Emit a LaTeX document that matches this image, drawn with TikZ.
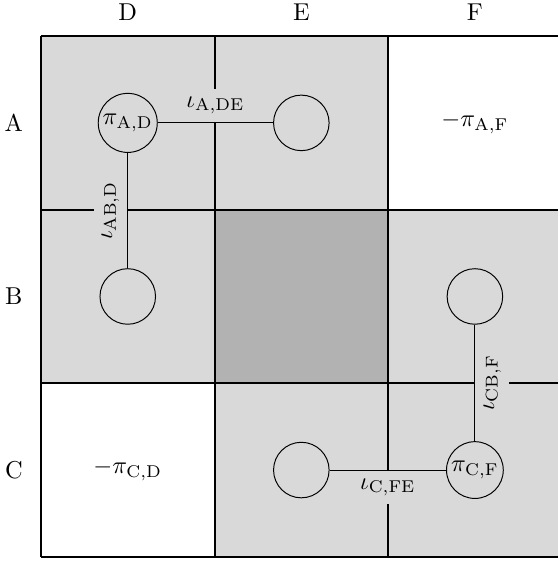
\documentclass[tikz,border=0pt]{standalone}
\usetikzlibrary{positioning}
\begin{document}
\begin{tikzpicture}[
    cell/.style={minimum size=2.5cm, inner sep=0pt},
    player/.style={circle, draw, minimum size=0.8cm, inner sep=1pt},
    link/.style={draw, thin},
    lbl/.style={fill=gray!30}
    ]
    \useasboundingbox (-0.59,0.52) rectangle (7.44,-7.56);

    \node[cell, fill=gray!30] (AD) at (1.25,-1.25) {};
    \node[cell, fill=gray!30] (AE) at (3.75,-1.25) {};
    \node[cell] (AF) at (6.25,-1.25) {};
    \node[cell, fill=gray!30] (BD) at (1.25,-3.75) {};
    \node[cell, fill=gray!60] (BE) at (3.75,-3.75) {};
    \node[cell, fill=gray!30] (BF) at (6.25,-3.75) {};
    \node[cell] (CD) at (1.25,-6.25) {};
    \node[cell, fill=gray!30] (CE) at (3.75,-6.25) {};
    \node[cell, fill=gray!30] (CF) at (6.25,-6.25) {};
    \draw[thick] (0,-7.5) grid[step=2.5] (7.5,0);

    \foreach \c/\x in {D/1.25, E/3.75, F/6.25}
        \node (col\c) at (\x,0.35) {\c};
    \foreach \r/\y in {A/-1.25, B/-3.75, C/-6.25}
        \node (row\r) at (-0.39,\y) {\r};

    \node[player] (pAD) at (AD) {$\pi_{\mathrm{A,D}}$};
    \node[player] (pAE) at (AE) {};
    \node[player] (pBD) at (BD) {};
    \node[player] (pBF) at (BF) {};
    \node[player] (pCE) at (CE) {};
    \node[player] (pCF) at (CF) {$\pi_{\mathrm{C,F}}$};
    \node (nAF) at (AF) {$-\pi_{\mathrm{A,F}}$};
    \node (nCD) at (CD) {$-\pi_{\mathrm{C,D}}$};

    \draw[link] (pAD) -- node[lbl, above] {$\iota_{\mathrm{A,DE}}$} (pAE);
    \draw[link] (pAD) -- node[lbl, rotate=90, anchor=south] {$\iota_{\mathrm{AB,D}}$} (pBD);
    \draw[link] (pCF) -- node[lbl, rotate=90, anchor=north] {$\iota_{\mathrm{CB,F}}$} (pBF);
    \draw[link] (pCE) -- node[lbl, below] {$\iota_{\mathrm{C,FE}}$} (pCF);
\end{tikzpicture}
\end{document}
